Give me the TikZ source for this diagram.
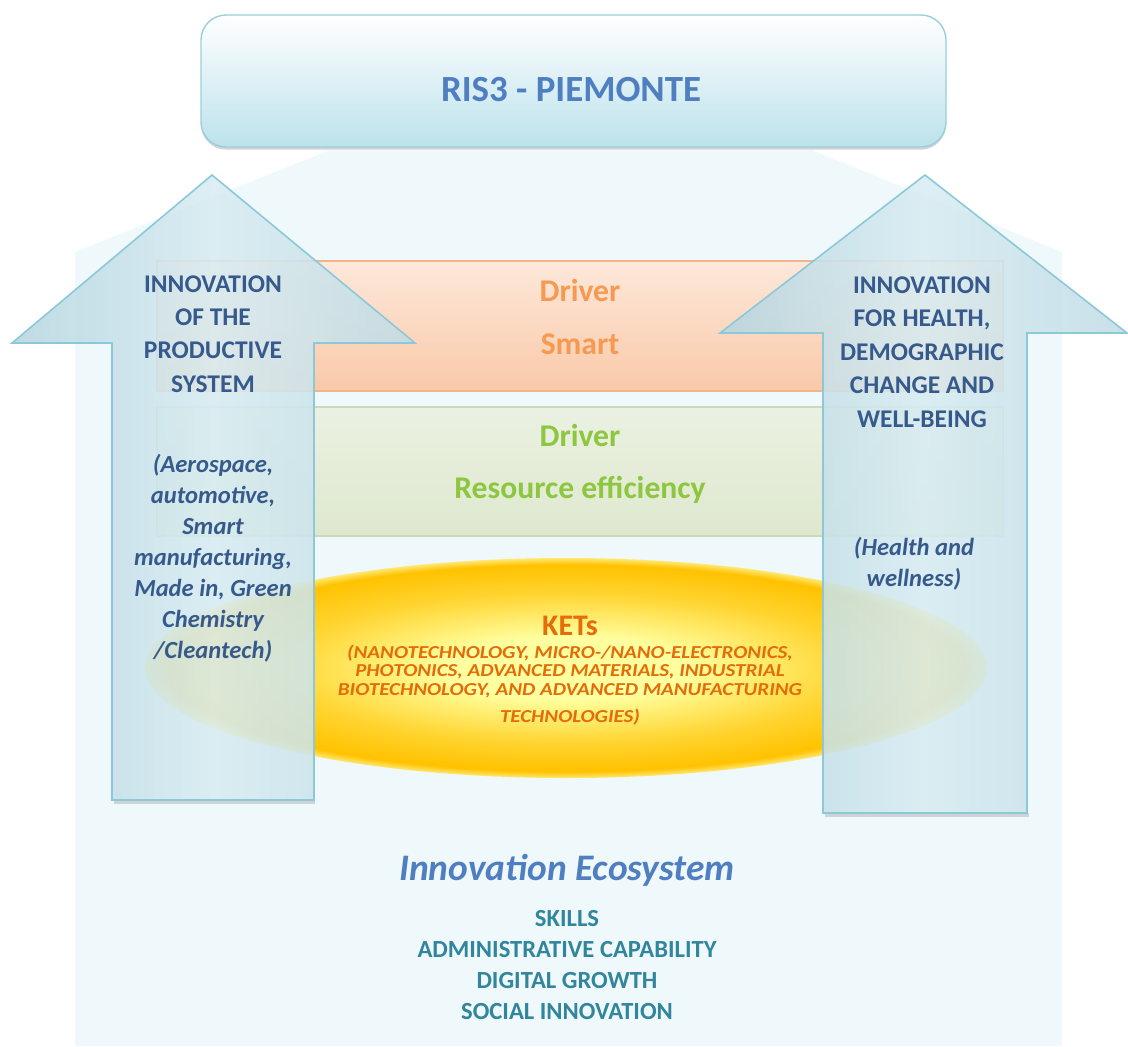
\documentclass[tikz,border=0pt]{standalone}
\usepackage{fontspec}
\setmainfont{Carlito}
\newfontfamily\ketfont[FakeStretch=1.15]{Carlito}
\usepackage{tikz}
\usetikzlibrary{shadows, positioning}
\definecolor{housebg}{HTML}{EFF8FB}
\definecolor{capedge}{HTML}{9CCFDD}
\definecolor{capbot}{HTML}{BCE2EC}
\definecolor{titleblue}{HTML}{4F7FC0}
\definecolor{arrowdark}{HTML}{B5D5E0}
\definecolor{arrowlight}{HTML}{D8ECF2}
\definecolor{arrowedge}{HTML}{8CC8D8}
\definecolor{armblue}{HTML}{375A8C}
\definecolor{smarttop}{HTML}{FDE8DA}
\definecolor{smartbot}{HTML}{F9C9A8}
\definecolor{smartedge}{HTML}{F2B48A}
\definecolor{smarttext}{HTML}{F59A50}
\definecolor{restop}{HTML}{EBF1E2}
\definecolor{resbot}{HTML}{DEE8CE}
\definecolor{resedge}{HTML}{CBD9B8}
\definecolor{restext}{HTML}{8DC63F}
\definecolor{ketin}{HTML}{FFFFA0}
\definecolor{ketout}{HTML}{FFC200}
\definecolor{ketrim}{HTML}{FFE870}
\definecolor{kettext}{HTML}{E46C0A}
\definecolor{ecoteal}{HTML}{31859C}

% pale centre, gold band, lighter rim
\pgfdeclareradialshading{ketglow}{\pgfpoint{0bp}{0bp}}{%
  color(0bp)=(ketin); color(7bp)=(ketin); color(17bp)=(ketout!70!ketin);
  color(23.5bp)=(ketout); color(25bp)=(ketrim); color(50bp)=(ketrim)}

\begin{document}
\begin{tikzpicture}[x=0.02cm, y=-0.02cm,
  capbox/.style={draw=capedge, line width=0.8pt, rounded corners=0.5cm, top color=white, bottom color=capbot,
    drop shadow={shadow xshift=0pt, shadow yshift=-1.5pt, opacity=0.35}},
  pillar/.style={draw=arrowedge, line width=0.9pt, left color=arrowdark, right color=arrowdark!70!arrowlight,
    middle color=arrowlight, fill opacity=0.87},
  pillarshade/.style={draw=gray!70, line width=2.2pt, opacity=0.45},
  band/.style={line width=0.6pt},
  armtext/.style={text=armblue, align=center, font=\fontsize{14.5}{19}\selectfont\bfseries},
  armnote/.style={text=armblue, align=center, font=\fontsize{14}{17.6}\selectfont\bfseries\itshape},
  drivertext/.style={align=center, font=\fontsize{18}{30}\selectfont\bfseries},
  ecoline/.style={text=ecoteal, align=center, font=\fontsize{14}{17.6}\selectfont\bfseries}
]
\useasboundingbox (0,0) rectangle (1128,1046);

% house background
\fill[housebg] (75,1046) -- (75,252) -- (330,150) -- (812,150) -- (1062,252) -- (1062,1046) -- cycle;

% top cap
\path[capbox] (201,15) rectangle (946,147);
\node[text=titleblue, font=\fontsize{21}{24}\selectfont\bfseries] (ris) at (571,90) {RIS3 - PIEMONTE};

% the two drivers
\path[band, draw=smartedge, top color=smarttop, bottom color=smartbot] (157,261) rectangle (1003,391);
\path[band, draw=resedge, top color=restop, bottom color=resbot] (157,407) rectangle (1003,536);
\node[drivertext, text=smarttext] (smart) at (580,317) {Driver\\Smart};
\node[drivertext, text=restext] (resource) at (580,464) {Driver\\Resource efficiency};

% KETs ellipse
\shade[shading=ketglow] (566,668) ellipse [x radius=421, y radius=110];

% pillars
\draw[pillarshade] (114,802) -- (315,802);
\draw[pillarshade] (825,815) -- (1029,815);
\path[pillar] (212,175) -- (415,343) -- (314,343) -- (314,800) -- (112,800) -- (112,343) -- (12,343) -- cycle;
\path[pillar] (925,175) -- (1127,333) -- (1027,333) -- (1027,813) -- (823,813) -- (823,333) -- (720,333) -- cycle;

\node[armtext] (prodtitle) at (213,334) {INNOVATION\\OF THE\\PRODUCTIVE\\SYSTEM};
\node[armnote] (prodnote) at (213,558) {(Aerospace,\\automotive,\\Smart\\manufacturing,\\Made in, Green\\Chemistry\\/Cleantech)};
\node[armtext] (healthtitle) at (922,352) {INNOVATION\\FOR HEALTH,\\DEMOGRAPHIC\\CHANGE AND\\WELL-BEING};
\node[armnote] (healthnote) at (914,564) {(\textit{Health and}\\\textit{wellness})};

% KETs text
\node[text=kettext, font=\fontsize{17}{20}\selectfont\bfseries] (kets) at (570,626) {KETs};
\node[text=kettext, align=center, font=\ketfont\fontsize{10.4}{10.6}\selectfont\bfseries\itshape, below=-2pt of kets] (ketlist)
  {(NANOTECHNOLOGY, MICRO-/NANO-ELECTRONICS,\\PHOTONICS, ADVANCED MATERIALS, INDUSTRIAL\\BIOTECHNOLOGY, AND ADVANCED MANUFACTURING\\[5pt]TECHNOLOGIES)};

% ecosystem
\node[text=titleblue, font=\fontsize{21.3}{24}\selectfont\bfseries\itshape] (eco) at (567,870) {Innovation Ecosystem};
\node[ecoline] (ecolist) at (567,965) {SKILLS\\ADMINISTRATIVE CAPABILITY\\DIGITAL GROWTH\\SOCIAL INNOVATION};
\end{tikzpicture}
\end{document}
